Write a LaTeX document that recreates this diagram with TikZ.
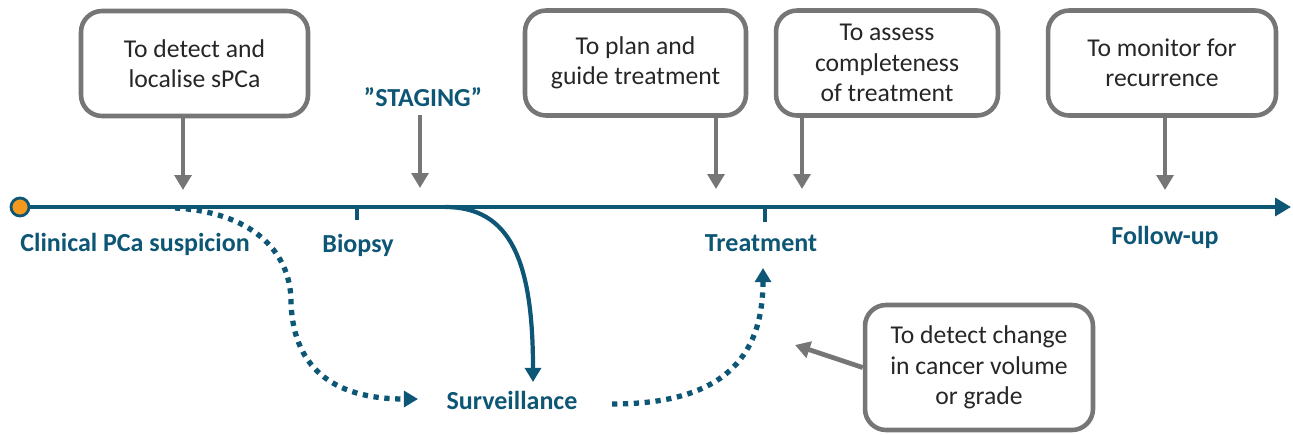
\documentclass[tikz,border=0pt]{standalone}
\usepackage{fontspec}
\setmainfont{Carlito}
\usepackage{xcolor}
\usetikzlibrary{arrows.meta, positioning}

\definecolor{pathteal}{HTML}{0E5675}
\definecolor{aimgray}{HTML}{767676}
\definecolor{aimtext}{HTML}{262626}
\definecolor{startorange}{HTML}{F39A1E}

\begin{document}
\begin{tikzpicture}[
    x=0.02cm, y=-0.02cm,
    aim/.style={
        draw=aimgray,
        line width=2.6pt,
        rounded corners=0.42cm,
        minimum width=4.5cm,
        minimum height=2.1cm,
        align=center,
        text=aimtext,
        font=\fontsize{14.6}{17.2}\selectfont
    },
    phase/.style={
        text=pathteal,
        font=\fontsize{14.8}{16}\selectfont\bfseries
    },
    aimarrow/.style={
        draw=aimgray,
        line width=2.7pt,
        -{Triangle[width=9.5pt,length=8.5pt]}
    },
    flow/.style={
        draw=pathteal,
        line width=2.4pt
    },
    flowarrow/.style={
        flow,
        -{Triangle[width=9pt,length=8pt]}
    },
    maybe/.style={
        flowarrow,
        line width=3pt,
        dash pattern=on 3pt off 3.2pt
    }
]
\useasboundingbox (0,0) rectangle (1293,434);

% Timeline
\node[circle, draw=pathteal, fill=startorange, line width=1.6pt,
      minimum size=0.36cm, inner sep=0pt] (start) at (20,207) {};
\coordinate (end) at (1291,207);
\draw[flow, -{Triangle[width=10pt,length=9pt]}] (start) -- (end);

% Ticks
\coordinate (biopsytick) at (357,207);
\coordinate (treattick) at (765,207);
\draw[flow] (biopsytick) -- ++(0,13);
\draw[flow] (treattick) -- ++(0,15);

% Phase labels
\node[phase] (suspicion) at (135,244) {Clinical PCa suspicion};
\node[phase] (biopsy) at (358,245) {Biopsy};
\node[phase] (treatment) at (761,243) {Treatment};
\node[phase] (followup) at (1165,237) {Follow-up};
\node[phase] (surveillance) at (512,400) {Surveillance};
\node[phase] (staging) at (423,97) {”STAGING”};

% Aims of imaging
\node[aim, minimum width=4.54cm] (detect) at (194.5,63.5) {To detect and\\localise sPCa};
\node[aim, minimum width=4.42cm] (plan) at (635.5,63) {To plan and\\guide treatment};
\node[aim, minimum width=4.44cm] (assess) at (887,63) {To assess\\completeness\\of treatment};
\node[aim, minimum width=4.56cm] (monitor) at (1162,63) {To monitor for\\recurrence};
\node[aim, minimum width=4.56cm, minimum height=2.5cm] (change) at (979,367.5) {To detect change\\in cancer volume\\or grade};

% Where they point
\coordinate (detectpt) at (183,190);
\coordinate (stagingpt) at (420,188);
\coordinate (planpt) at (716,189);
\coordinate (assesspt) at (802,189);
\coordinate (monitorpt) at (1165,190);
\coordinate (changept) at (795,345);

\draw[aimarrow] (detect.south -| detectpt) -- (detectpt);
\draw[aimarrow] (420,115) -- (stagingpt);
\draw[aimarrow] (plan.south -| planpt) -- (planpt);
\draw[aimarrow] (assess.south -| assesspt) -- (assesspt);
\draw[aimarrow] (monitor.south -| monitorpt) -- (monitorpt);
\draw[aimarrow] (change.west) -- (changept);

% Branches
\coordinate (branchA) at (175,208);
\coordinate (branchB) at (445,207);
\coordinate (survin) at (418,399);
\coordinate (survout) at (612,404);
\coordinate (survdown) at (533,382);
\coordinate (treatup) at (763,268);

\draw[maybe] (branchA) .. controls (250,212) and (290,250) .. (291,300)
    .. controls (292,365) and (330,399) .. (survin);
\draw[flowarrow] (branchB) .. controls (510,207) and (533,260) .. (survdown);
\draw[maybe] (survout) .. controls (720,404) and (763,360) .. (treatup);

\end{tikzpicture}
\end{document}
